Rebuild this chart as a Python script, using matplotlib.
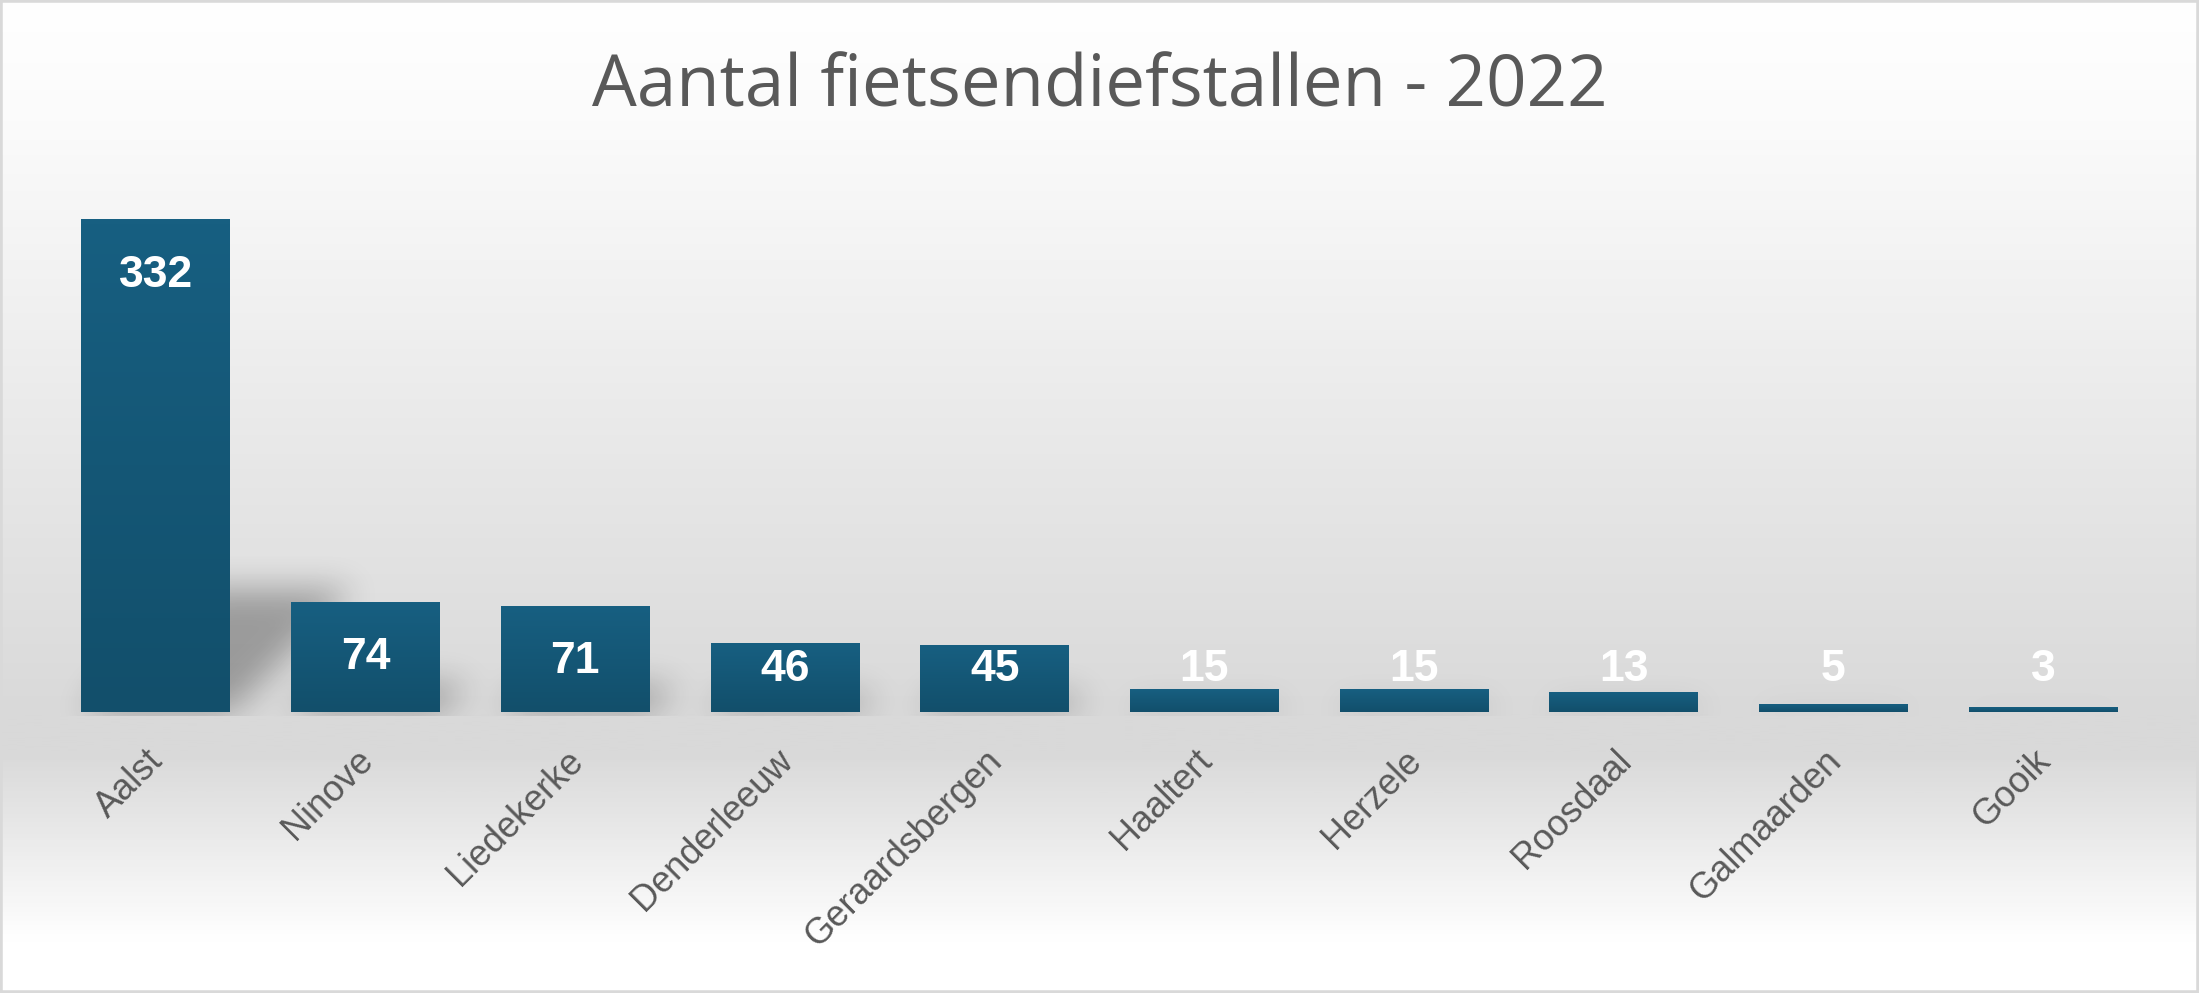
import matplotlib.pyplot as plt
import numpy as np
from matplotlib.colors import LinearSegmentedColormap
from matplotlib.patches import Rectangle
from matplotlib.transforms import ScaledTranslation

# gegevens: aantal fietsendiefstallen per gemeente in 2022
gemeenten = ['Aalst', 'Ninove', 'Liedekerke', 'Denderleeuw', 'Geraardsbergen',
             'Haaltert', 'Herzele', 'Roosdaal', 'Galmaarden', 'Gooik']
diefstallen = [332, 74, 71, 46, 45, 15, 15, 13, 5, 3]

W, H = 2199, 993
fig = plt.figure(figsize=(W / 100, H / 100), dpi=100)

# achtergrond met verloop (wit -> grijs -> wit)
bg = fig.add_axes([0, 0, 1, 1], zorder=0)
bg_cmap = LinearSegmentedColormap.from_list('bg', [(0, '#ffffff'), (0.12, '#fbfbfb'),
                                                   (0.72, '#d9d9d9'), (0.76, '#d9d9d9'),
                                                   (0.95, '#ffffff'), (1, '#ffffff')])
bg.imshow(np.linspace(0, 1, 500).reshape(-1, 1), aspect='auto', cmap=bg_cmap)
bg.add_patch(Rectangle((0, 0), 1, 1, transform=bg.transAxes, fill=False,
                       edgecolor='#d9d9d9', linewidth=4))
bg.axis('off')

ax = fig.add_axes([0.0232, 0.2826, 0.9536, 0.5225], zorder=2)
ax.patch.set_alpha(0)

x = np.arange(len(gemeenten))
bars = ax.bar(x, diefstallen, width=0.71, color='none')
ax.set_xlim(-0.5, len(gemeenten) - 0.5)
ax.set_ylim(0, 350)

# balken met verloop van boven naar onder
bar_cmap = LinearSegmentedColormap.from_list('bar', ['#175f81', '#124f6b'])
for b in bars:
    ax.imshow(np.linspace(0, 1, 100).reshape(-1, 1), aspect='auto', cmap=bar_cmap,
              extent=[b.get_x(), b.get_x() + b.get_width(), 0, b.get_height()], zorder=2)

# schaduw: platgedrukte, schuine kopie van elke balk naar rechts, vervaagd
def vervaag(a, r):
    for _ in range(3):
        c = np.cumsum(np.pad(a, ((0, 0), (r + 1, r)), mode='edge'), axis=1)
        a = (c[:, 2 * r + 1:] - c[:, :-2 * r - 1]) / (2 * r + 1)
        c = np.cumsum(np.pad(a, ((r + 1, r), (0, 0)), mode='edge'), axis=0)
        a = (c[2 * r + 1:, :] - c[:-2 * r - 1, :]) / (2 * r + 1)
    return a

masker = np.zeros((H, W))
for b in bars:
    (x0, y0), (x1, y1) = ax.transData.transform([(b.get_x(), 0),
                                                 (b.get_x() + b.get_width(), b.get_height())])
    basis = H - y0
    hoogte = (y1 - y0) * 0.25
    for rij in range(int(basis - hoogte), int(basis)):
        d = basis - rij
        masker[rij, int(x0 + d):int(x1 + d)] = 1
masker = vervaag(masker, 15)
(_, y_as), = ax.transData.transform([(0, 0)])
masker[int(H - y_as) + 4:, :] = 0
schaduw = np.zeros((H, W, 4))
schaduw[..., 3] = np.clip(masker, 0, 1) * 0.3
sh = fig.add_axes([0, 0, 1, 1], zorder=1)
sh.imshow(schaduw, aspect='auto', interpolation='nearest')
sh.axis('off')

# waardelabels
for i, v in enumerate(diefstallen):
    ax.text(i, max(v - 37, 29), str(v), ha='center', va='center', color='white',
            fontsize=32, fontweight='bold', zorder=3, family='Liberation Sans')

ax.set_xticks(x, gemeenten, rotation=45, ha='right', rotation_mode='anchor',
              fontsize=26, color='#595959', family='Liberation Sans')
ax.tick_params(axis='x', length=0, pad=22)
verschuif = ScaledTranslation(-0.1, 0, fig.dpi_scale_trans)
for lbl in ax.get_xticklabels():
    lbl.set_transform(lbl.get_transform() + verschuif)
ax.set_yticks([])
for s in ax.spines.values():
    s.set_visible(False)

fig.text(0.5, 0.912, 'Aantal fietsendiefstallen - 2022', ha='center', va='center',
         fontsize=51, color='#595959', family='Open Sans')

fig.savefig('out.png', dpi=100)
